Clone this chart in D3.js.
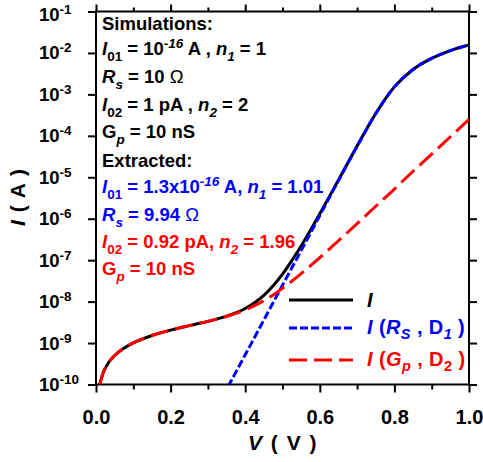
<!DOCTYPE html>
<html><head><meta charset="utf-8">
<script src="https://cdn.jsdelivr.net/npm/d3@7"></script>
<style>
body{margin:0;background:#fff;}
svg{display:block;font-family:"Liberation Sans",Arial,sans-serif;font-weight:bold;}
text{white-space:pre;}
</style></head><body>
<svg id="c" width="483" height="462"></svg>
<script>
// ---- data ----
const voltage = [0.01,0.02,0.03,0.05,0.075,0.1,0.15,0.2,0.25,0.3,0.35,0.4,0.425,0.45,0.475,0.5,0.525,0.55,0.6,0.65,0.7,0.75,0.8,0.85,0.9,0.95,1.0];
const totalCurrent = [1.0e-10,2.0e-10,3.0e-10,5.0e-10,7.5e-10,1.01e-9,1.52e-9,2.05e-9,2.63e-9,3.34e-9,4.45e-9,6.8e-9,9.4e-9,1.41e-8,2.4e-8,4.6e-8,9.8e-8,2.2e-7,1.32e-6,8.6e-6,5.7e-5,3.47e-4,1.52e-3,4.0e-3,7.4e-3,1.14e-2,1.55e-2];
const gpD2Current = [1.0e-10,2.0e-10,3.0e-10,5.0e-10,7.5e-10,1.01e-9,1.52e-9,2.05e-9,2.63e-9,3.33e-9,4.37e-9,6.29e-9,8.0e-9,1.05e-8,1.45e-8,2.09e-8,3.1e-8,4.72e-8,1.15e-7,2.94e-7,7.6e-7,2.0e-6,5.2e-6,1.4e-5,3.6e-5,9.5e-5,2.5e-4];
const rsD1Voltage = [0.34,0.36,0.4,0.45,0.5,0.55,0.6,0.65,0.7,0.75,0.8,0.85,0.9,0.95,1.0];
const rsD1Current = [5.2e-11,1.12e-10,5.2e-10,3.6e-9,2.5e-8,1.7e-7,1.2e-6,8.3e-6,5.6e-5,3.45e-4,1.52e-3,4.0e-3,7.4e-3,1.14e-2,1.55e-2];

const xMajorTicks = [0,0.2,0.4,0.6,0.8,1.0];
const xTickLabels = ["0.0","0.2","0.4","0.6","0.8","1.0"];
const xMinorTicks = [0.1,0.3,0.5,0.7,0.9];
const yTicks = [1e-10,1e-9,1e-8,1e-7,1e-6,1e-5,1e-4,1e-3,1e-2,1e-1];
const yTickExponents = ["-10","-9","-8","-7","-6","-5","-4","-3","-2","-1"];

const simLines = [
  [["Simulations:"]],
  [["I","i"],["01","sub"],[" = 10"],["-16","sup i"],[" A , "],["n","i"],["1","sub i"],[" = 1"]],
  [["R","i"],["s","sub i"],[" = 10 "],["\u03A9","omega"]],
  [["I","i"],["02","sub"],[" = 1 pA , "],["n","i"],["2","sub i"],[" = 2"]],
  [["G"],["p","sub i"],[" = 10 nS"]],
  [["Extracted:"]],
  [["I","i"],["01","sub"],[" = 1.3x10"],["-16","sup i"],[" A, "],["n","i"],["1","sub i"],[" = 1.01"]],
  [["R","i"],["s","sub i"],[" = 9.94 "],["\u03A9","omega"]],
  [["I","i"],["02","sub"],[" = 0.92 pA, "],["n","i"],["2","sub i"],[" = 1.96"]],
  [["G"],["p","sub i"],[" = 10 nS"]]
];
const simLineColors = ["#000","#000","#000","#000","#000","#000","#0000ff","#0000ff","#ff0000","#ff0000"];

const legendLabels = [
  [["I","i"]],
  [["I","i"],[" ("],["R","i"],["S","sub i"],[" , D"],["1","sub i"],[" )"]],
  [["I","i"],[" ("],["G","i"],["p","sub i"],[" , D"],["2","sub"],[" )"]]
];
const seriesColors = ["#000000","#0000ff","#ff0000"];
const seriesDashes = [null,"8,3","18,7"];

// ---- layout ----
const svg = d3.select("#c");
const L = 96, R = 469, T = 11.5, B = 384.5;
const x = d3.scaleLinear().domain([0,1]).range([L,R]);
const y = d3.scaleLog().domain([1e-10,1e-1]).range([B,T]);

svg.append("defs").append("clipPath").attr("id","clip")
  .append("rect").attr("x",L).attr("y",T).attr("width",R-L).attr("height",B-T);

function styleAxis(g){
  g.select(".domain").remove();
  g.selectAll(".tick line").attr("stroke","#000").attr("stroke-width",2);
}

// bottom axis
svg.append("g").attr("transform",`translate(0,${B})`)
  .call(d3.axisBottom(x).tickValues(xMajorTicks).tickSize(8).tickPadding(17)
        .tickFormat((d,i)=>xTickLabels[i]))
  .call(styleAxis)
  .call(g=>g.selectAll("text").attr("font-size",20)
        .attr("font-family","Liberation Sans, Arial, sans-serif").attr("font-weight","bold").attr("fill","#000"));
svg.append("g").attr("transform",`translate(0,${B})`)
  .call(d3.axisBottom(x).tickValues(xMinorTicks).tickSize(5).tickFormat(""))
  .call(styleAxis);
// top axis
svg.append("g").attr("transform",`translate(0,${T})`)
  .call(d3.axisTop(x).tickValues(xMajorTicks).tickSize(7).tickFormat(""))
  .call(styleAxis);
svg.append("g").attr("transform",`translate(0,${T})`)
  .call(d3.axisTop(x).tickValues(xMinorTicks).tickSize(4).tickFormat(""))
  .call(styleAxis);
// left / right axes
svg.append("g").attr("transform",`translate(${L},0)`)
  .call(d3.axisLeft(y).tickValues(yTicks).tickSize(8).tickFormat(""))
  .call(styleAxis);
svg.append("g").attr("transform",`translate(${R},0)`)
  .call(d3.axisRight(y).tickValues(yTicks).tickSize(8).tickFormat(""))
  .call(styleAxis);

// y tick labels with superscripts
const yl = svg.append("g");
yTicks.forEach((v,i)=>{
  const t = yl.append("text").attr("x",39).attr("y",y(v)+(i===yTicks.length-1?9:6.5))
    .attr("font-size",18.5).attr("fill","#000");
  t.append("tspan").text("10");
  t.append("tspan").text(yTickExponents[i]).attr("font-size",13.5).attr("dy",-7);
});

// frame
svg.append("rect").attr("x",L).attr("y",T).attr("width",R-L).attr("height",B-T)
  .attr("fill","none").attr("stroke","#000").attr("stroke-width",2);

function rich(sel, segs, small, subDy, supDy){
  let off = 0;
  segs.forEach(([t, st=""])=>{
    const cls = st.split(" ");
    let target = 0;
    if (cls.includes("sub")) target = subDy;
    else if (cls.includes("sup")) target = supDy;
    const ts = sel.append("tspan").text(t).attr("dy", target - off);
    off = target;
    if (cls.includes("sub") || cls.includes("sup")) ts.attr("font-size", small);
    if (cls.includes("i")) ts.attr("font-style","italic");
    if (cls.includes("omega")) ts.attr("font-weight","normal");
  });
}

// curves
const lineGen = d3.line().x(d=>x(d[0])).y(d=>y(d[1])).curve(d3.curveMonotoneX);
const curves = svg.append("g").attr("clip-path","url(#clip)");
const seriesData = [
  voltage.map((v,i)=>[v,totalCurrent[i]]),
  rsD1Voltage.map((v,i)=>[v,rsD1Current[i]]),
  voltage.map((v,i)=>[v,gpD2Current[i]])
];
seriesData.forEach((d,i)=>{
  curves.append("path").attr("d",lineGen(d)).attr("fill","none")
    .attr("stroke",seriesColors[i]).attr("stroke-width",3)
    .attr("stroke-dasharray",seriesDashes[i]);
});

// annotation text
const baselines = [30,55,83,111,138,167,193,221,248,275];
simLines.forEach((segs,i)=>{
  const t = svg.append("text").attr("x",102).attr("y",baselines[i])
    .attr("font-size",18.5).attr("fill",simLineColors[i]);
  rich(t, segs, 13.5, 6, -7);
});

// legend
const legY = [300,328,360];
const legTextY = [307,334,366];
legendLabels.forEach((segs,i)=>{
  svg.append("line").attr("x1",289).attr("x2",353).attr("y1",legY[i]).attr("y2",legY[i])
    .attr("stroke",seriesColors[i]).attr("stroke-width",3).attr("stroke-dasharray",seriesDashes[i]);
  const t = svg.append("text").attr("x",367).attr("y",legTextY[i])
    .attr("font-size",20).attr("letter-spacing",0.4).attr("fill",seriesColors[i]);
  rich(t, segs, 14.5, 5, -7);
});

// axis titles
const xt = svg.append("text").attr("x",283).attr("y",450).attr("text-anchor","middle")
  .attr("font-size",21).attr("letter-spacing",1.5).attr("fill","#000");
rich(xt, [["V","i"],[" ( V )"]], 14, 5, -7);
const yt = svg.append("text").attr("transform","translate(25,197) rotate(-90)")
  .attr("text-anchor","middle").attr("font-size",21).attr("letter-spacing",1).attr("fill","#000");
rich(yt, [["I","i"],[" ( A )"]], 14, 5, -7);
</script>
</body></html>
